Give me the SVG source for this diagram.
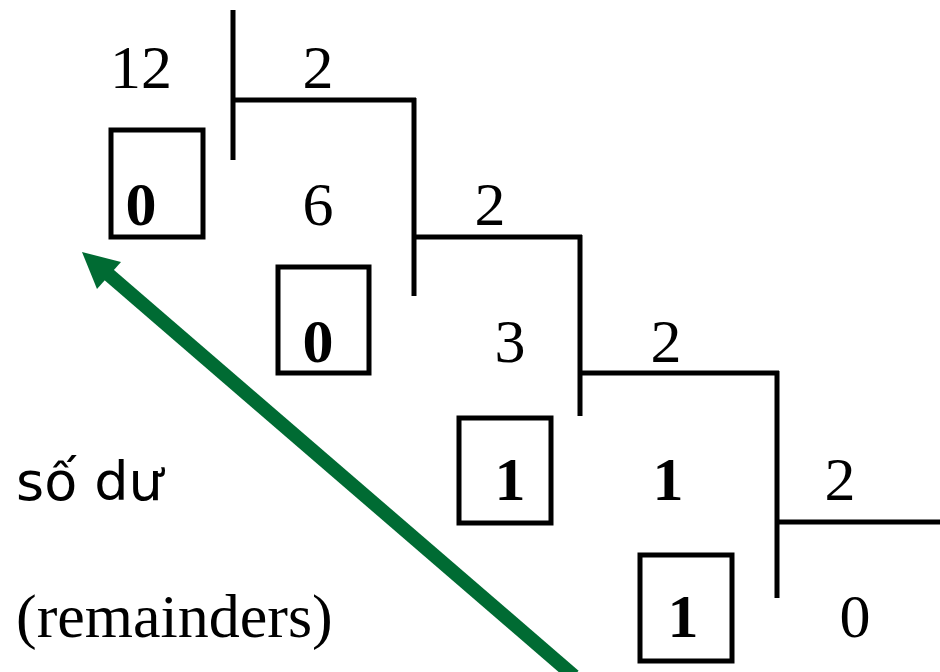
<svg xmlns="http://www.w3.org/2000/svg" width="940" height="672" viewBox="0 0 940 672">
  <style>
    .num { font-family: "Liberation Serif", "Times New Roman", serif; font-size: 62px; fill: #000; text-anchor: middle; }
    .rem { font-family: "Liberation Serif", "Times New Roman", serif; font-size: 62px; font-weight: bold; fill: #000; text-anchor: middle; }
    .lbl { font-family: "Liberation Serif", "Times New Roman", serif; font-size: 62px; fill: #000; }
    .vi { font-family: "DejaVu Sans", "Noto Sans", sans-serif; font-size: 54px; fill: #000; }
    .rule { stroke: #000; stroke-width: 5; fill: none; }
    .box { stroke: #000; stroke-width: 5; fill: none; }
  </style>
  <rect width="940" height="672" fill="#fff"/>

  <!-- division brackets -->
  <g id="brackets">
    <line class="rule" x1="233" y1="10" x2="233" y2="160"/>
    <line class="rule" x1="231" y1="100" x2="416" y2="100"/>
    <line class="rule" x1="414" y1="98" x2="414" y2="296"/>
    <line class="rule" x1="412" y1="237" x2="582" y2="237"/>
    <line class="rule" x1="580" y1="235" x2="580" y2="416"/>
    <line class="rule" x1="578" y1="373" x2="779" y2="373"/>
    <line class="rule" x1="777" y1="371" x2="777" y2="598"/>
    <line class="rule" x1="775" y1="522" x2="940" y2="522"/>
  </g>

  <!-- quotients and divisors -->
  <g id="step1">
    <text class="num" x="141" y="88">12</text>
    <text class="num" x="318" y="88">2</text>
  </g>
  <g id="step2">
    <text class="num" x="318" y="225">6</text>
    <text class="num" x="490" y="225">2</text>
  </g>
  <g id="step3">
    <text class="num" x="510" y="362">3</text>
    <text class="num" x="666" y="362">2</text>
  </g>
  <g id="step4">
    <text class="rem" x="668" y="500">1</text>
    <text class="num" x="840" y="500">2</text>
  </g>
  <g id="step5">
    <text class="num" x="855" y="637">0</text>
  </g>

  <!-- boxed remainders -->
  <g id="rem1">
    <rect class="box" x="111" y="130" width="92" height="107"/>
    <text class="rem" x="141" y="225">0</text>
  </g>
  <g id="rem2">
    <rect class="box" x="278" y="267" width="91" height="106"/>
    <text class="rem" x="318" y="362">0</text>
  </g>
  <g id="rem3">
    <rect class="box" x="459" y="418" width="92" height="105"/>
    <text class="rem" x="510" y="500">1</text>
  </g>
  <g id="rem4">
    <rect class="box" x="640" y="555" width="92" height="106"/>
    <text class="rem" x="683" y="637">1</text>
  </g>

  <!-- labels -->
  <g id="labels">
    <text class="vi" x="16" y="500">số dư</text>
    <text class="lbl" x="16" y="637">(remainders)</text>
  </g>

  <!-- read-order arrow -->
  <g id="connectors">
    <line x1="574" y1="676" x2="108" y2="274" stroke="#006b33" stroke-width="14"/>
    <polygon points="82,252 121,262 97,289" fill="#006b33"/>
  </g>
</svg>
